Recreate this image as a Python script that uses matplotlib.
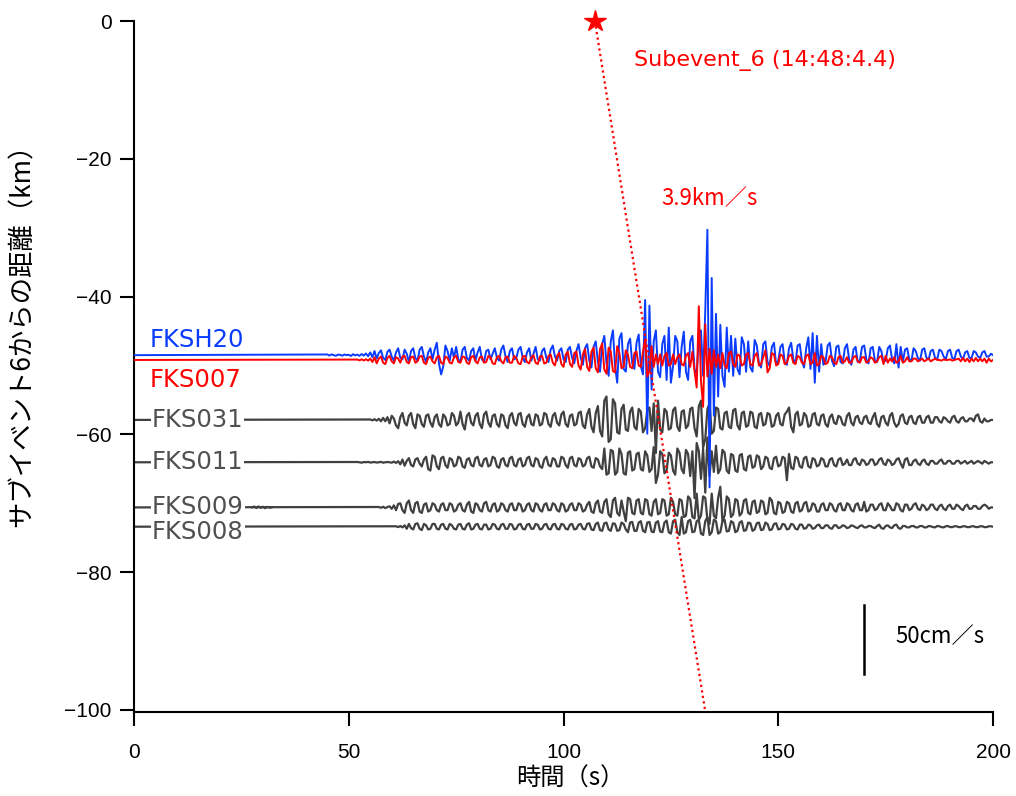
import numpy as np
import matplotlib
matplotlib.use("Agg")
import matplotlib.pyplot as plt

JP_FONT = ['Noto Sans CJK JP', 'DejaVu Sans']

# station name, distance from subevent 6 (km), trace onset (s)
stations = ['FKSH20', 'FKS007', 'FKS031', 'FKS011', 'FKS009', 'FKS008']
distances = [-48.5, -49.2, -57.9, -64.05, -70.6, -73.4]
onsets = [45.0, 52.0, 55.0, 52.0, 57.0, 61.0]
colors = ['#0a3cff', '#ff0000', '#404040', '#404040', '#404040', '#404040']

dt = 0.5            # sample step of the traces (s)
km_per_cms = 10 / 50  # 50 cm/s drawn as 10 km

# velocity traces (cm/s), one sample every dt seconds from the onset
fksh20 = [
    0.5, -0.3, 0.6, 0.0, -0.5, 0.4, 0.2, -0.4, 0.5, 0.0,
    0.3, -0.6, 0.7, -0.2, 0.4, -0.5, 0.8, -0.3, 1.2, -0.8,
    2.0, -1.5, 3.0, -2.5, 1.5, 3.5, -2.0, -3.5, 2.5, 4.0,
    -1.0, -4.0, 2.0, 5.0, -2.0, -3.0, 4.0, 1.0, -5.0, 3.0,
    5.0, -2.0, -4.0, 4.0, 6.0, -1.0, -5.0, 2.0, 5.0, -3.0,
    4.0, 9.0, -6.0, -14.0, -8.0, 7.0, 3.0, -4.0, 5.0, -2.0,
    6.0, -3.0, -5.0, 4.0, 6.0, -2.0, -4.0, 3.0, 5.0, -4.0,
    2.0, 6.0, -3.0, -5.0, 3.0, 4.0, -3.0, 1.0, 5.0, -2.0,
    -4.0, 4.0, 7.0, -1.0, -5.0, 3.0, 5.0, -3.0, -2.0, 4.0,
    6.0, -2.0, -5.0, 2.0, 5.0, -4.0, 1.0, 6.0, -3.0, -4.0,
    3.0, 5.0, -2.0, -5.0, 4.0, 7.0, -1.0, -4.0, 3.0, 5.0,
    -3.0, -5.0, 4.0, 6.0, -2.0, -6.0, 3.0, 8.0, -2.0, -7.0,
    5.0, 8.0, -4.0, -9.0, 6.0, 10.0, -5.0, -12.0, 8.0, 14.0,
    -6.0, -15.0, 10.0, 18.0, -8.0, -20.0, 12.0, 16.0, -10.0, -12.0,
    8.0, 12.0, -6.0, -10.0, 9.0, 15.0, -8.0, -14.0, 40.0, -57.0,
    36.0, -25.0, 10.0, 18.0, -12.0, -16.0, 8.0, 14.0, -18.0, 20.0,
    -20.0, -8.0, 14.0, 10.0, -16.0, 6.0, 17.0, -12.0, -18.0, 10.0,
    14.0, -10.0, -14.0, 12.0, 18.0, -15.0, 32.0, 91.0, -96.0, 56.0,
    -44.0, 30.0, -30.0, 22.0, -15.0, -23.0, 20.0, -12.0, 14.0, -15.0,
    12.0, -10.0, -14.0, 13.0, 8.0, -12.0, 10.0, -9.0, -12.0, 11.0,
    7.0, -6.0, -9.0, 8.0, 10.0, -5.0, -8.0, 6.0, 9.0, -7.0,
    -4.0, 6.0, 8.0, -5.0, -7.0, 5.0, 9.0, -3.0, -6.0, 7.0,
    8.0, -4.0, -9.0, 5.0, 13.0, -10.0, 16.0, -20.0, 14.0, -12.0,
    8.0, -7.0, -5.0, 7.0, 9.0, -4.0, -8.0, 6.0, 7.0, -5.0,
    -6.0, 5.0, 8.0, -3.0, -7.0, 4.0, 6.0, -5.0, -4.0, 6.0,
    7.0, -3.0, -6.0, 5.0, 6.0, -4.0, -5.0, 6.0, 3.0, -5.0,
    -4.0, 5.0, 7.0, -3.0, -6.0, 8.0, -9.0, 6.0, -5.0, 4.0,
    5.0, -3.0, -4.0, 5.0, 3.0, -2.0, -4.0, 4.0, 5.0, -2.0,
    -3.0, 3.0, 4.0, -2.0, -3.0, 4.0, 3.0, -1.0, -3.0, 3.0,
    4.0, -2.0, -3.0, 3.0, 4.0, -1.0, -3.0, 2.0, 3.0, -2.0,
    -2.0, 3.0, 2.0, -1.0, -2.0, 2.0, 3.0, -1.0, -1.0, 1.0,
    0.0,
]

fks007 = [
    0.3, -0.3, 0.5, -0.4, 0.6, -0.5, 1.0, -1.5, 2.0, -2.5,
    1.0, 2.5, -2.0, -3.0, 1.5, 3.0, -1.0, -2.5, 2.0, 1.0,
    -2.0, 2.5, 3.0, -1.5, -2.5, 2.0, 2.5, -2.0, -1.0, 2.5,
    3.0, -2.0, -3.0, 1.5, 2.5, -1.0, -2.5, 2.0, 3.0, -2.0,
    -3.0, 2.5, 1.5, -2.0, -2.5, 2.0, 3.0, -1.5, -2.0, 2.5,
    2.0, -2.0, -3.0, 2.0, 3.0, -1.0, -2.5, 2.0, 2.5, -2.0,
    -1.5, 3.0, 2.0, -2.5, -3.0, 2.0, 3.0, -1.0, -2.5, 2.0,
    2.5, -2.0, -2.0, 3.0, 1.5, -2.5, -3.0, 2.5, 3.0, -1.5,
    -2.5, 2.0, 3.5, -2.0, -3.0, 2.5, 3.0, -2.5, -2.0, 3.0,
    4.0, -2.0, -4.0, 3.0, 5.0, -3.0, -5.0, 4.0, 6.0, -3.0,
    -5.0, 5.0, 6.0, -4.0, -7.0, 4.0, 8.0, -5.0, -8.0, 6.0,
    9.0, -6.0, -9.0, 8.0, 12.0, -7.0, -10.0, 9.0, 6.0, -8.0,
    -9.0, 10.0, 5.0, -6.0, -5.0, 7.0, 4.0, -5.0, -6.0, 5.0,
    6.0, -4.0, -5.0, 6.0, 15.0, -12.0, -8.0, 10.0, -5.0, 4.0,
    -3.0, 4.0, -4.0, 3.0, 5.0, -4.0, -3.0, 4.0, -3.0, 2.0,
    4.0, -3.0, -4.0, 3.0, 5.0, -5.0, 6.0, -8.0, -20.0, 39.0,
    -15.0, -34.0, 26.0, -12.0, 8.0, -10.0, 7.0, -5.0, 4.0, -6.0,
    5.0, -4.0, -6.0, 5.0, 6.0, -3.0, -5.0, 4.0, 3.0, -4.0,
    -3.0, 4.0, 5.0, -3.0, -4.0, 3.0, 5.0, -4.0, -3.0, 2.0,
    7.0, -9.0, -6.0, 5.0, 4.0, -4.0, -3.0, 4.0, 3.0, -3.0,
    -2.0, 3.0, 4.0, -2.0, -3.0, 3.0, 2.0, -2.0, -3.0, 3.0,
    4.0, -3.0, -2.0, 5.0, -4.0, -3.0, 3.0, 2.0, -3.0, -2.0,
    3.0, 2.0, -2.0, -3.0, 2.0, 3.0, -2.0, -1.0, 2.0, -2.0,
    -2.0, 2.0, 3.0, -1.0, -2.0, 2.0, 2.0, -2.0, -1.0, 2.0,
    1.0, -2.0, -1.0, 2.0, 3.0, -3.0, 3.0, -2.0, 1.0, -1.0,
    2.0, -2.0, -1.0, 3.0, -2.0, -1.0, 2.0, -1.0, -1.0, 1.0,
    1.0, -1.0, 0.0, 1.0, -1.0, 0.0, 1.0, -1.0, 0.0, 1.0,
    0.0, 0.0, -0.5, 0.5, 0.0, 0.0, 0.5, -0.5, 0.0, 0.5,
    1.0, -1.0, 1.5, -1.0, 1.0, -1.5, 1.0, -1.0, 1.5, -1.0,
    1.0, -1.0, 1.0, -2.0, 1.0, -1.0, 0.0,
]

fks031 = [
    0.3, -0.3, 0.5, -0.5, 0.8, -1.0, 1.5, -1.0, 2.0, -2.5,
    3.0, 1.0, -4.0, -6.0, 2.0, 5.0, -2.0, -4.0, 3.0, 5.0,
    -3.0, -6.0, 4.0, 3.0, -3.0, -5.0, 3.0, 4.0, -2.0, -5.0,
    2.0, 4.0, -3.0, -5.0, 4.0, 2.0, -4.0, -3.0, 5.0, 3.0,
    -4.0, -2.0, 6.0, -3.0, -7.0, 3.0, 5.0, -2.0, -4.0, 3.0,
    5.0, -3.0, -6.0, 4.0, 6.0, -2.0, -5.0, 3.0, 4.0, -3.0,
    -5.0, 4.0, 3.0, -4.0, -6.0, 3.0, 5.0, -2.0, -4.0, 4.0,
    5.0, -3.0, -5.0, 2.0, 4.0, -3.0, -4.0, 4.0, 3.0, -4.0,
    -3.0, 5.0, 4.0, -3.0, -5.0, 3.0, 5.0, -2.0, -4.0, 4.0,
    6.0, -3.0, -5.0, 3.0, 4.0, -4.0, -3.0, 5.0, 6.0, -4.0,
    -6.0, 4.0, 8.0, -5.0, -9.0, 5.0, 10.0, -8.0, -12.0, 14.0,
    17.0, -16.0, -14.0, 15.0, 12.0, -9.0, -10.0, 8.0, 11.0, -7.0,
    -8.0, 6.0, 9.0, -5.0, -7.0, 8.0, 6.0, -9.0, -6.0, 7.0,
    9.0, -8.0, 12.0, -24.0, 14.0, -7.0, -9.0, 8.0, 6.0, -7.0,
    -6.0, 7.0, 9.0, -5.0, -8.0, 6.0, 7.0, -6.0, -4.0, 8.0,
    9.0, -6.0, -12.0, 10.0, 14.0, -20.0, -14.0, 8.0, 12.0, -10.0,
    -8.0, 9.0, 8.0, -6.0, -7.0, 5.0, 6.0, -5.0, -6.0, 7.0,
    8.0, -4.0, -7.0, 5.0, 6.0, -5.0, -4.0, 6.0, 5.0, -5.0,
    -6.0, 4.0, 5.0, -4.0, -3.0, 5.0, 4.0, -5.0, -4.0, 3.0,
    5.0, -3.0, -4.0, 4.0, 6.0, 9.0, -5.0, -9.0, 4.0, 6.0,
    -4.0, -3.0, 5.0, 3.0, -5.0, -4.0, 4.0, 5.0, -3.0, -4.0,
    3.0, 4.0, -3.0, -5.0, 2.0, 4.0, -2.0, -3.0, 3.0, 2.0,
    -3.0, -4.0, 3.0, 5.0, -2.0, -4.0, 2.0, 3.0, -2.0, -3.0,
    2.0, 3.0, -2.0, -3.0, 2.0, 5.0, -3.0, -5.0, 2.0, 3.0,
    -2.0, -4.0, 3.0, 5.0, -2.0, -5.0, -3.0, 3.0, 4.0, -2.0,
    -3.0, 2.0, 3.0, -2.0, -3.0, 2.0, 3.0, -2.0, -2.0, 2.0,
    3.0, -2.0, -2.0, 2.0, 2.0, -1.0, -2.0, 2.0, 1.0, -1.0,
    -2.0, 2.0, 3.0, -1.0, -2.0, 1.0, 2.0, -1.0, -1.0, 1.0,
    1.0, -1.0, 3.0, 4.0, -1.0, -2.0, 1.0, -1.0, -1.0, 0.0,
    0.0,
]

fks011 = [
    0.2, 0.0, -0.3, 0.2, 0.0, 0.3, -0.2, 0.0, 0.2, -0.2,
    0.0, 0.3, -0.3, 0.0, 0.2, 0.0, -0.3, 0.5, -0.5, 0.8,
    -1.5, 2.0, -2.5, 1.0, 3.0, -2.0, -3.0, 2.0, 3.0, -1.0,
    -3.0, 2.0, 4.0, -5.0, -6.0, 5.0, 4.0, -3.0, -5.0, 3.0,
    4.0, -2.0, -4.0, 3.0, 2.0, -3.0, -2.0, 4.0, 3.0, -3.0,
    -4.0, 2.0, 3.0, -2.0, -3.0, 3.0, 4.0, -2.0, -3.0, 2.0,
    3.0, -3.0, -2.0, 4.0, 3.0, -3.0, -4.0, 2.0, 3.0, -2.0,
    -3.0, 3.0, 4.0, -2.0, -3.0, 2.0, 3.0, -3.0, -2.0, 3.0,
    4.0, -2.0, -3.0, 3.0, 2.0, -3.0, -4.0, 2.0, 4.0, -2.0,
    -3.0, 3.0, 2.0, -3.0, -3.0, 4.0, 3.0, -2.0, -4.0, 3.0,
    4.0, -2.0, -3.0, 3.0, 2.0, -3.0, -2.0, 3.0, 4.0, -3.0,
    -4.0, 3.0, 2.0, -3.0, -5.0, 10.0, -9.0, -8.0, 9.0, 8.0,
    -9.0, -7.0, 10.0, 6.0, -8.0, -9.0, 7.0, 8.0, -6.0, -5.0,
    6.0, 7.0, -5.0, -6.0, 8.0, 5.0, -7.0, -5.0, 11.0, -15.0,
    -9.0, 8.0, 6.0, -8.0, -6.0, 7.0, 5.0, -6.0, -9.0, 10.0,
    7.0, -5.0, -8.0, 9.0, 6.0, -10.0, 8.0, -26.0, 14.0, 8.0,
    -12.0, 10.0, -22.0, 18.0, -10.0, 8.0, -7.0, 12.0, -8.0, -5.0,
    9.0, 7.0, -6.0, -8.0, 6.0, 5.0, -6.0, -7.0, 5.0, 6.0,
    -5.0, -6.0, 4.0, 5.0, -4.0, -3.0, 5.0, 4.0, -5.0, -3.0,
    4.0, 3.0, -4.0, -5.0, 3.0, 4.0, -3.0, -2.0, 4.0, 3.0,
    -13.0, 6.0, -4.0, -5.0, 4.0, 3.0, -3.0, -4.0, 3.0, 4.0,
    -3.0, -4.0, 3.0, 2.0, -3.0, -2.0, 3.0, 2.0, -3.0, -3.0,
    2.0, 3.0, -2.0, -3.0, 2.0, 3.0, -2.0, -1.0, 2.0, -2.0,
    -2.0, 2.0, 3.0, -1.0, -2.0, 2.0, 1.0, -2.0, -1.0, 2.0,
    2.0, -2.0, -1.0, 2.0, 3.0, -1.0, -2.0, 2.0, 1.0, -2.0,
    -1.0, 2.0, 3.0, -1.0, -4.0, 2.0, 3.0, -2.0, -2.0, 1.0,
    2.0, -1.0, -2.0, 1.0, 2.0, -1.0, -2.0, 1.0, 1.0, -1.0,
    -1.0, 1.0, 2.0, -1.0, -1.0, 1.0, 1.0, -1.0, -1.0, 1.0,
    1.0, -1.0, 0.0, 1.0, -1.0, 0.0, 1.0, -1.0, 0.0, 1.0,
    0.0, -1.0, 1.0, 0.0, -1.0, 0.0, 0.0,
]

fks009 = [
    0.3, -0.3, 0.5, -0.5, 0.3, 0.8, -1.0, 1.5, -2.0, 2.5,
    3.0, -2.0, -4.0, 3.0, 5.0, -2.0, -4.0, 3.0, 4.0, -3.0,
    -4.0, 2.0, 3.0, -3.0, -2.0, 3.0, 2.0, -2.0, -3.0, 2.0,
    3.0, -2.0, -2.0, 3.0, 2.0, -3.0, -2.0, 2.0, 3.0, -2.0,
    -3.0, 2.0, 4.0, -3.0, -4.0, 3.0, 2.0, -2.0, -3.0, 3.0,
    4.0, -2.0, -3.0, 2.0, 3.0, -3.0, -2.0, 3.0, 2.0, -2.0,
    -3.0, 2.0, 3.0, -2.0, -2.0, 3.0, 2.0, -3.0, -2.0, 2.0,
    3.0, -2.0, -3.0, 3.0, 2.0, -2.0, -3.0, 2.0, 3.0, -2.0,
    -2.0, 3.0, 2.0, -2.0, -3.0, 3.0, 2.0, -3.0, -2.0, 2.0,
    3.0, -2.0, -2.0, 3.0, 2.0, -3.0, -2.0, 2.0, 4.0, -3.0,
    -4.0, 3.0, 5.0, -3.0, -4.0, 4.0, 6.0, -5.0, -7.0, 5.0,
    7.0, -4.0, -6.0, 5.0, -3.0, -10.0, 7.0, 6.0, -4.0, -5.0,
    5.0, 6.0, -4.0, -5.0, 6.0, 5.0, -5.0, -6.0, 4.0, 6.0,
    -5.0, -4.0, 6.0, 5.0, -6.0, -5.0, 7.0, 4.0, -5.0, -6.0,
    6.0, 5.0, -7.0, -6.0, 8.0, 6.0, -7.0, -8.0, 10.0, -9.0,
    -6.0, 8.0, 7.0, -9.0, -12.0, 10.0, -6.0, -8.0, 7.0, 15.0,
    -10.0, -6.0, 8.0, 6.0, -7.0, -5.0, 6.0, 5.0, -6.0, -4.0,
    5.0, 6.0, -4.0, -5.0, 4.0, 5.0, -4.0, -3.0, 5.0, 4.0,
    -5.0, -4.0, 7.0, 5.0, -4.0, -5.0, 4.0, 3.0, -4.0, -3.0,
    4.0, 3.0, -3.0, -4.0, 3.0, 4.0, -3.0, -2.0, 3.0, 4.0,
    -3.0, -2.0, 3.0, 2.0, -3.0, -3.0, 2.0, 3.0, -2.0, -2.0,
    3.0, 2.0, -2.0, -3.0, 2.0, 3.0, -2.0, -2.0, 3.0, 2.0,
    -2.0, -3.0, 2.0, 3.0, -2.0, -2.0, 4.0, -3.0, -2.0, 2.0,
    2.0, -2.0, -1.0, 2.0, 3.0, -2.0, -2.0, 3.0, 1.0, -2.0,
    -2.0, 3.0, 2.0, -2.0, -3.0, 2.0, 2.0, -2.0, -1.0, 2.0,
    3.0, -1.0, -2.0, 2.0, 1.0, -2.0, -1.0, 2.0, 2.0, -1.0,
    -2.0, 1.0, 2.0, -1.0, -2.0, 1.0, 2.0, -1.0, -1.0, 2.0,
    1.0, -1.0, -2.0, 1.0, 2.0, -1.0, -1.0, 1.0, 1.0, -1.0,
    -1.0, 1.0, 2.0, 1.0, -1.0, 0.0, 0.0,
]

# small early wiggle on FKS009 around 28 s
fks009_early_onset = 27.5
fks009_early = [0.0, 0.6, -0.4, 0.7, -0.3, 0.5, -0.6, 0.4, -0.2, 0.0]

fks008 = [
    0.3, -0.3, 0.5, -0.5, 1.0, -1.5, 2.0, -1.0, -2.0, 2.0,
    2.5, -1.5, -2.5, 2.0, 1.0, -2.0, -1.5, 2.0, 2.0, -1.5,
    -2.0, 1.5, 2.0, -1.5, -2.0, 2.0, 1.0, -1.5, -2.0, 1.5,
    2.0, -1.5, -2.0, 1.5, 2.5, -2.0, -1.5, 1.5, 2.0, -1.5,
    -2.0, 1.5, 1.5, -2.0, -1.5, 2.0, 1.5, -1.5, -2.0, 1.5,
    2.0, -1.5, -1.5, 2.0, 1.5, -2.0, -1.5, 1.5, 2.0, -1.5,
    -2.0, 1.5, 2.0, -1.5, -1.5, 2.0, 1.5, -2.0, -1.5, 1.5,
    2.0, -1.5, -2.0, 1.5, 2.0, -1.5, -2.0, 2.0, 1.5, -1.5,
    -2.0, 1.5, 2.0, -2.0, -1.5, 1.5, 2.0, -1.5, -2.0, 2.0,
    2.5, -2.0, -2.5, 2.0, 3.0, -2.5, -3.0, 2.5, 3.0, -2.0,
    -3.0, 2.5, 2.0, -3.0, -2.5, 3.0, 2.0, -2.0, -4.0, 3.0,
    3.5, -3.0, -3.0, 3.0, 4.0, -3.0, -4.0, 3.0, 3.5, -3.5,
    -4.0, 3.0, 4.0, -3.5, -4.0, 3.0, 4.5, -4.0, -5.0, 4.0,
    5.0, -4.0, -6.0, 7.0, -5.0, -4.0, 4.0, 5.0, -4.0, -3.5,
    4.0, 5.0, -5.0, -6.0, 4.0, 7.0, -6.0, -4.0, 5.0, 4.0,
    -5.0, -4.0, 4.0, 5.0, -3.5, -3.0, 4.0, 3.0, -4.0, -3.0,
    3.0, 4.0, -3.0, -2.5, 3.0, 2.5, -3.0, -2.0, 2.5, 3.0,
    -2.5, -2.0, 3.0, 2.0, -2.5, -2.0, 2.0, 2.5, -2.0, -1.5,
    2.0, 1.5, -2.0, -1.5, 2.0, 1.5, -1.5, -2.0, 1.5, 1.5,
    -1.5, -1.0, 1.5, 1.0, -1.5, -1.0, 1.0, 1.5, -1.0, -1.0,
    1.0, 1.0, -1.0, -1.5, 1.0, 1.0, -1.0, -0.5, 1.0, 0.5,
    -1.0, -0.5, 1.0, 0.5, -0.5, -1.0, 0.5, 1.0, -0.5, -0.5,
    0.5, 0.5, -0.5, -1.0, 0.5, 1.5, -1.0, -1.5, 0.5, 1.0,
    -0.5, -1.0, 1.0, 1.5, -1.0, -1.5, 0.5, 0.5, -0.5, -0.5,
    0.5, 0.5, -0.5, -0.5, 0.5, 0.5, -0.5, -0.5, 0.5, 0.3,
    -0.3, -0.5, 0.5, 0.3, -0.3, -0.5, 0.3, 0.5, -0.3, -0.3,
    0.3, 0.3, -0.3, -0.3, 0.3, 0.3, -0.3, -0.3, 0.3, 0.3,
    -0.3, -0.3, 0.3, 0.3, -0.3, -0.3, 0.3, 0.3, 0.0,
]

traces = [fksh20, fks007, fks031, fks011, fks009, fks008]

# subevent origin and apparent velocity line
origin_time = 107.3
velocity = 3.9
scale_bar_time = 170.0
scale_bar_top = -84.8

fig = plt.figure(figsize=(10.16, 7.96), dpi=100)
ax = fig.add_axes([0.1319, 0.1055, 0.8455, 0.8681])

# gray traces first, then blue, red on top
order = [2, 3, 4, 5, 0, 1]
for i in order:
    vals = np.asarray(traces[i])
    t = np.concatenate([[0.0], onsets[i] + dt * np.arange(len(vals))])
    y = distances[i] + km_per_cms * np.concatenate([[0.0], vals])
    lw = 1.6 if i >= 2 else 1.4
    ax.plot(t, y, color=colors[i], lw=lw, zorder=2 + (i < 2) + (i == 1))

early = np.asarray(fks009_early)
ax.plot(fks009_early_onset + dt * np.arange(len(early)),
        distances[4] + km_per_cms * early, color=colors[4], lw=1.6, zorder=2)

# station labels
ax.text(3.7, -46.3, stations[0], color='#0a3cff', fontsize=17.5, va='center', ha='left')
ax.text(3.7, -52.1, stations[1], color='#ff0000', fontsize=17.5, va='center', ha='left')
label_y = [-57.9, -64.05, -70.6, -74.2]
for i, ly in zip(range(2, 6), label_y):
    ax.text(4.2, ly, stations[i], color='#505050', fontsize=17.5, va='center', ha='left',
            zorder=5, bbox=dict(facecolor='white', edgecolor='none', pad=0.5))

# subevent star and 3.9 km/s line
ax.plot([origin_time, origin_time + 100 / velocity], [0, -100], color='#ff0000',
        ls=(0, (1, 1.5)), lw=1.6, zorder=6, clip_on=False)
ax.plot([origin_time], [0], marker='*', color='#ff0000', ms=16, zorder=7, clip_on=False)
ax.text(116.4, -5.8, 'Subevent_6 (14:48:4.4)', color='#ff0000', fontsize=16,
        family='DejaVu Sans', va='center', ha='left')
ax.text(122.7, -25.8, '3.9km／s', color='#ff0000', fontsize=16,
        family=JP_FONT, va='center', ha='left')

# 50 cm/s scale bar
ax.plot([scale_bar_time, scale_bar_time], [scale_bar_top, scale_bar_top - 50 * km_per_cms],
        color='black', lw=1.8)
ax.text(177.2, -89.4, '50cm／s', color='black', fontsize=16, family=JP_FONT,
        va='center', ha='left')

ax.set_xlim(0, 200)
ax.set_ylim(-100.3, 0)
ax.set_xticks([0, 50, 100, 150, 200])
ax.set_yticks([0, -20, -40, -60, -80, -100])
for s in ['top', 'right']:
    ax.spines[s].set_visible(False)
for s in ['left', 'bottom']:
    ax.spines[s].set_linewidth(1.5)
ax.tick_params(direction='out', length=10, width=1.5, labelsize=15)
ax.tick_params(axis='x', pad=12)
ax.tick_params(axis='y', pad=6)
for lab in ax.get_xticklabels() + ax.get_yticklabels():
    lab.set_family('Liberation Sans')

ax.set_xlabel('時間（s）', family=JP_FONT, fontsize=17.5)
ax.set_ylabel('サブイベント6からの距離（km）', family=JP_FONT, fontsize=19)
ax.xaxis.set_label_coords(0.508, -0.077)
ax.yaxis.set_label_coords(-0.115, 0.555)

fig.savefig('out.png', dpi=100)
